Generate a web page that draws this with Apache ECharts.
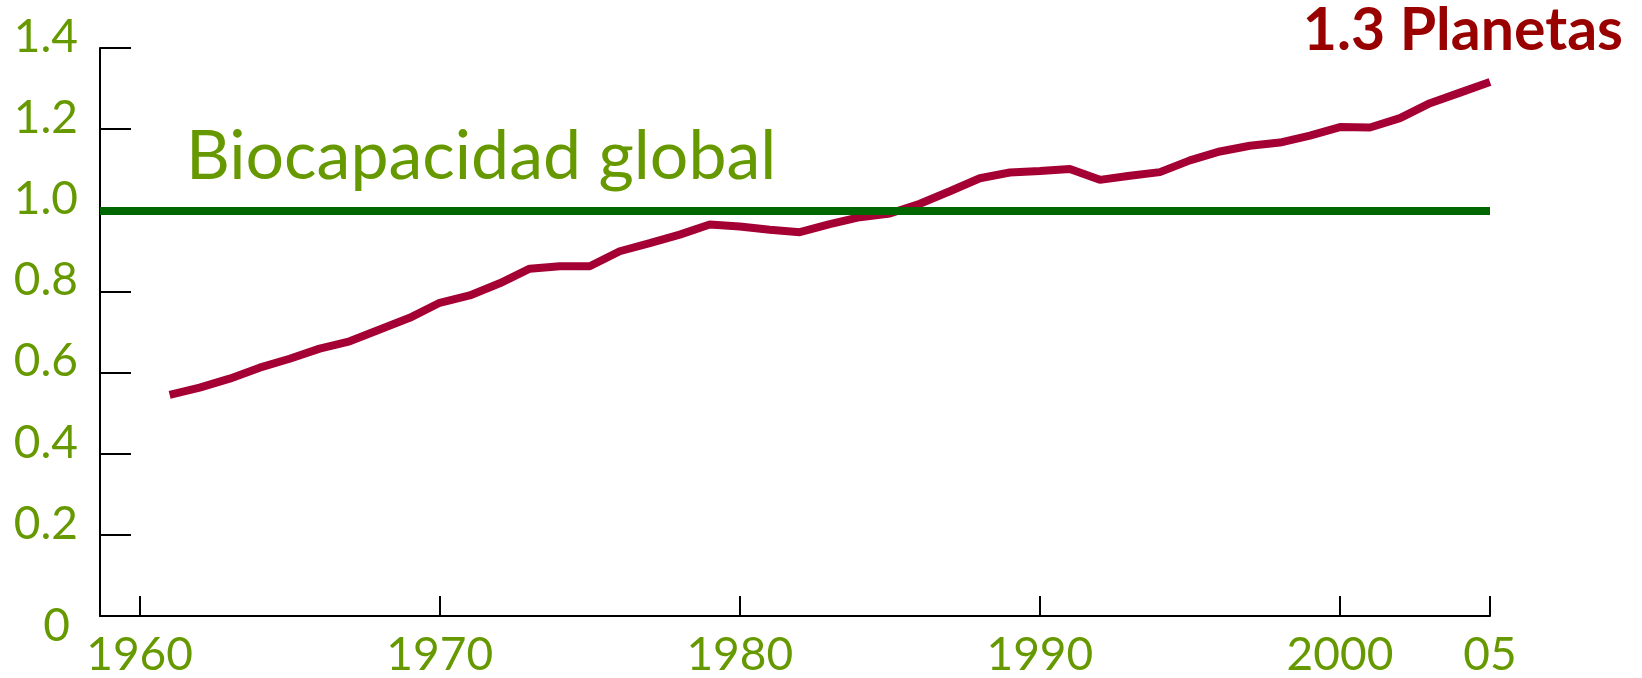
<!DOCTYPE html>
<html>
<head>
<meta charset="utf-8">
<script src="https://cdn.jsdelivr.net/npm/echarts@6/dist/echarts.min.js"></script>
<style>
  html, body { margin: 0; padding: 0; background: #fff; }
  #main { width: 1642px; height: 678px; }
</style>
</head>
<body>
<div id="main"></div>
<script>
// huella ecologica global, en numero de planetas
const years = [1961, 1962, 1963, 1964, 1965, 1966, 1967, 1968, 1969, 1970,
  1971, 1972, 1973, 1974, 1975, 1976, 1977, 1978, 1979, 1980,
  1981, 1982, 1983, 1984, 1985, 1986, 1987, 1988, 1989, 1990,
  1991, 1992, 1993, 1994, 1995, 1996, 1997, 1998, 1999, 2000,
  2001, 2002, 2003, 2004, 2005]
const planets = [0.545, 0.563, 0.585, 0.612, 0.634, 0.659, 0.677, 0.706, 0.735, 0.772,
  0.790, 0.820, 0.856, 0.862, 0.862, 0.899, 0.919, 0.940, 0.965, 0.960,
  0.952, 0.946, 0.966, 0.983, 0.992, 1.016, 1.047, 1.079, 1.093, 1.097,
  1.102, 1.075, 1.085, 1.094, 1.123, 1.145, 1.159, 1.167, 1.184, 1.205,
  1.204, 1.227, 1.264, 1.290, 1.316]
const biocapacity = 1.0
const xTicks = [1960, 1970, 1980, 1990, 2000, 2005]

const green = '#669900'
const font = 'Lato'

let chart = echarts.init(document.getElementById('main'))

let option = {
  animation: false,
  grid: { left: 100, right: 152, top: 48, bottom: 61 },
  xAxis: {
    type: 'value',
    min: 1958.68,
    max: 2005,
    splitLine: { show: false },
    axisLine: { onZero: false, lineStyle: { color: '#000', width: 2 } },
    axisTick: { show: true, inside: true, length: 20, lineStyle: { color: '#000', width: 2 }, customValues: xTicks },
    axisLabel: {
      customValues: xTicks,
      margin: 16,
      color: green,
      fontFamily: font,
      fontSize: 46,
      formatter: v => v === 2005 ? '05' : String(v)
    }
  },
  yAxis: {
    type: 'value',
    min: 0,
    max: 1.4,
    interval: 0.2,
    splitLine: { show: false },
    axisLine: { show: true, lineStyle: { color: '#000', width: 2 } },
    axisTick: { show: true, inside: true, length: 31, lineStyle: { color: '#000', width: 2 } },
    axisLabel: {
      margin: 22,
      color: green,
      fontFamily: font,
      fontSize: 46,
      formatter: v => v === 0 ? '{z|0}' : '{n|' + v.toFixed(1) + '}',
      rich: {
        n: { color: green, fontFamily: font, fontSize: 46, padding: [0, 0, 22, 0] },
        z: { color: green, fontFamily: font, fontSize: 46, padding: [20, 8, 0, 0] }
      }
    }
  },
  series: [
    {
      type: 'line',
      data: years.map((y, i) => [y, planets[i]]),
      symbol: 'none',
      lineStyle: { color: '#a50034', width: 8 },
      z: 2
    },
    {
      type: 'line',
      data: [],
      markLine: {
        silent: true,
        symbol: 'none',
        label: { show: false },
        lineStyle: { color: '#006600', width: 8, type: 'solid' },
        data: [{ yAxis: biocapacity }]
      },
      z: 3
    }
  ],
  graphic: [
    {
      type: 'text',
      left: 186,
      top: 123,
      style: { text: 'Biocapacidad global', fill: green, font: '68px Lato' }
    },
    {
      type: 'text',
      right: 19,
      top: 1,
      style: { text: '1.3 Planetas', fill: '#990000', font: 'bold 59px Lato' }
    }
  ]
}

chart.setOption(option)
</script>
</body>
</html>
